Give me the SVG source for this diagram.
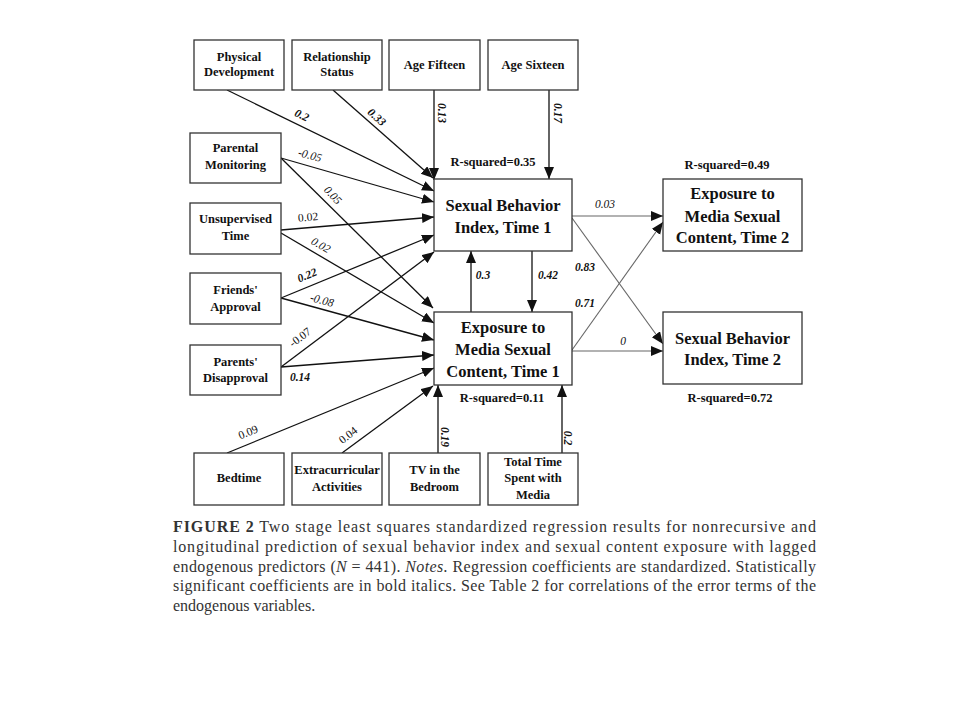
<svg xmlns="http://www.w3.org/2000/svg" width="960" height="720" viewBox="0 0 960 720">
<style>
.box{fill:#fff;stroke:#333;stroke-width:1.3}
.t{font-family:"Liberation Serif",serif;font-weight:bold;font-size:12.5px;text-anchor:middle;fill:#111}
.tb{font-family:"Liberation Serif",serif;font-weight:bold;font-size:16.5px;text-anchor:middle;fill:#111}
.rs{font-family:"Liberation Serif",serif;font-weight:bold;font-size:12.5px;text-anchor:middle;fill:#111}
.c{font-family:"Liberation Serif",serif;font-size:11.5px;text-anchor:middle;fill:#111}
.bi{font-weight:bold;font-style:italic}
.i{font-style:italic}
.a{stroke:#111;stroke-width:1.3;fill:none;marker-end:url(#ah)}
.g{stroke:#666;stroke-width:1.1;fill:none;marker-end:url(#ah)}
.cap{font-family:"Liberation Serif",serif;font-size:16px;fill:#333}
</style>
<defs>
<marker id="ah" markerUnits="userSpaceOnUse" markerWidth="14" markerHeight="12" refX="12" refY="5" orient="auto">
<path d="M0,0 L12,5 L0,10 z" fill="#111"/>
</marker>
</defs>
<rect width="960" height="720" fill="#fff"/>

<g id="connectors">
<line class="a" x1="227" y1="90" x2="434" y2="191"/>
<line class="a" x1="333" y1="90" x2="433" y2="178"/>
<line class="a" x1="434" y1="90" x2="434" y2="180"/>
<line class="a" x1="549" y1="90" x2="549" y2="179"/>
<line class="a" x1="281" y1="158" x2="434" y2="202"/>
<line class="a" x1="281" y1="158" x2="433" y2="308"/>
<line class="a" x1="281" y1="230" x2="434" y2="217"/>
<line class="a" x1="281" y1="233" x2="434" y2="323"/>
<line class="a" x1="281" y1="298" x2="434" y2="235"/>
<line class="a" x1="281" y1="298" x2="434" y2="340"/>
<line class="a" x1="281" y1="367" x2="434" y2="252"/>
<line class="a" x1="281" y1="367" x2="434" y2="355"/>
<line class="a" x1="227" y1="453" x2="434" y2="368"/>
<line class="a" x1="342" y1="453" x2="433" y2="386"/>
<line class="a" x1="438" y1="453" x2="438" y2="385"/>
<line class="a" x1="562" y1="453" x2="562" y2="385"/>
<line class="a" x1="471" y1="312" x2="471" y2="251"/>
<line class="a" x1="532" y1="251" x2="532" y2="312"/>
<line class="g" x1="572" y1="216" x2="663" y2="216"/>
<line class="g" x1="572" y1="218" x2="663" y2="344"/>
<line class="g" x1="572" y1="351" x2="663" y2="351"/>
<line class="g" x1="572" y1="350" x2="663" y2="222"/>
</g>

<g id="labels">
<text class="c bi" transform="rotate(26 302 115)" x="302" y="119">0.2</text>
<text class="c bi" transform="rotate(42 377 117)" x="377" y="121">0.33</text>
<text class="c bi" transform="rotate(90 442 113)" x="442" y="117">0.13</text>
<text class="c bi" transform="rotate(90 558 113)" x="558" y="117">0.17</text>
<text class="c i" transform="rotate(15 310 155)" x="310" y="159">-0.05</text>
<text class="c i" transform="rotate(46 333 195)" x="333" y="199">0.05</text>
<text class="c" transform="rotate(-5 308 217)" x="308" y="221">0.02</text>
<text class="c i" transform="rotate(30 321 245)" x="321" y="249">0.02</text>
<text class="c bi" transform="rotate(-22 307 275)" x="307" y="279">0.22</text>
<text class="c i" transform="rotate(15 322 300)" x="322" y="304">-0.08</text>
<text class="c" transform="rotate(-37 300 337)" x="300" y="341">-0.07</text>
<text class="c bi" x="300" y="381">0.14</text>
<text class="c" transform="rotate(-22 248 432)" x="248" y="436">0.09</text>
<text class="c" transform="rotate(-38 348 435)" x="348" y="439">0.04</text>
<text class="c bi" transform="rotate(90 445 437)" x="445" y="441">0.19</text>
<text class="c bi" transform="rotate(90 568 438)" x="568" y="442">0.2</text>
<text class="c bi" x="483" y="279">0.3</text>
<text class="c bi" x="548" y="279">0.42</text>
<text class="c bi" x="585" y="271">0.83</text>
<text class="c bi" x="585" y="307">0.71</text>
<text class="c i" x="605" y="208">0.03</text>
<text class="c i" x="623" y="345">0</text>
<text class="rs" x="493" y="166">R-squared=0.35</text>
<text class="rs" x="502" y="402">R-squared=0.11</text>
<text class="rs" x="727" y="169">R-squared=0.49</text>
<text class="rs" x="730" y="402">R-squared=0.72</text>
</g>

<g id="physical-development"><rect class="box" x="194" y="40" width="90" height="50"/><text class="t" x="239" y="61">Physical</text><text class="t" x="239" y="76">Development</text></g>
<g id="relationship-status"><rect class="box" x="292" y="40" width="90" height="50"/><text class="t" x="337" y="61">Relationship</text><text class="t" x="337" y="76">Status</text></g>
<g id="age-fifteen"><rect class="box" x="389" y="40" width="91" height="50"/><text class="t" x="434.5" y="69">Age Fifteen</text></g>
<g id="age-sixteen"><rect class="box" x="488" y="40" width="90" height="50"/><text class="t" x="533" y="69">Age Sixteen</text></g>

<g id="parental-monitoring"><rect class="box" x="190" y="133" width="91" height="50"/><text class="t" x="235.5" y="152">Parental</text><text class="t" x="235.5" y="169">Monitoring</text></g>
<g id="unsupervised-time"><rect class="box" x="190" y="203" width="91" height="51"/><text class="t" x="235.5" y="223">Unsupervised</text><text class="t" x="235.5" y="240">Time</text></g>
<g id="friends-approval"><rect class="box" x="190" y="273" width="91" height="51"/><text class="t" x="235.5" y="294">Friends'</text><text class="t" x="235.5" y="311">Approval</text></g>
<g id="parents-disapproval"><rect class="box" x="190" y="345" width="91" height="50"/><text class="t" x="235.5" y="366">Parents'</text><text class="t" x="235.5" y="382">Disapproval</text></g>

<g id="sbi-time1"><rect class="box" x="434" y="179" width="138" height="72"/><text class="tb" x="503" y="211">Sexual Behavior</text><text class="tb" x="503" y="233">Index, Time 1</text></g>
<g id="exposure-time1"><rect class="box" x="434" y="312" width="138" height="73"/><text class="tb" x="503" y="333">Exposure to</text><text class="tb" x="503" y="355">Media Sexual</text><text class="tb" x="503" y="377">Content, Time 1</text></g>
<g id="exposure-time2"><rect class="box" x="663" y="179" width="139" height="72"/><text class="tb" x="732.5" y="199">Exposure to</text><text class="tb" x="732.5" y="222">Media Sexual</text><text class="tb" x="732.5" y="243">Content, Time 2</text></g>
<g id="sbi-time2"><rect class="box" x="663" y="312" width="139" height="72"/><text class="tb" x="732.5" y="344">Sexual Behavior</text><text class="tb" x="732.5" y="365">Index, Time 2</text></g>

<g id="bedtime"><rect class="box" x="194" y="453" width="90" height="52"/><text class="t" x="239" y="482">Bedtime</text></g>
<g id="extracurricular"><rect class="box" x="292" y="453" width="90" height="52"/><text class="t" x="337" y="474">Extracurricular</text><text class="t" x="337" y="491">Activities</text></g>
<g id="tv-bedroom"><rect class="box" x="389" y="453" width="91" height="52"/><text class="t" x="434.5" y="474">TV in the</text><text class="t" x="434.5" y="491">Bedroom</text></g>
<g id="total-time"><rect class="box" x="488" y="453" width="90" height="52"/><text class="t" x="533" y="466">Total Time</text><text class="t" x="533" y="482">Spent with</text><text class="t" x="533" y="499">Media</text></g>

<g id="caption">
<text class="cap" x="173" y="532" textLength="643" lengthAdjust="spacing"><tspan font-weight="bold">FIGURE 2</tspan> Two stage least squares standardized regression results for nonrecursive and</text>
<text class="cap" x="173" y="552" textLength="643" lengthAdjust="spacing">longitudinal prediction of sexual behavior index and sexual content exposure with lagged</text>
<text class="cap" x="173" y="572" textLength="643" lengthAdjust="spacing">endogenous predictors (<tspan font-style="italic">N</tspan> = 441). <tspan font-style="italic">Notes.</tspan> Regression coefficients are standardized. Statistically</text>
<text class="cap" x="173" y="591" textLength="643" lengthAdjust="spacing">significant coefficients are in bold italics. See Table 2 for correlations of the error terms of the</text>
<text class="cap" x="173" y="611">endogenous variables.</text>
</g>
</svg>
